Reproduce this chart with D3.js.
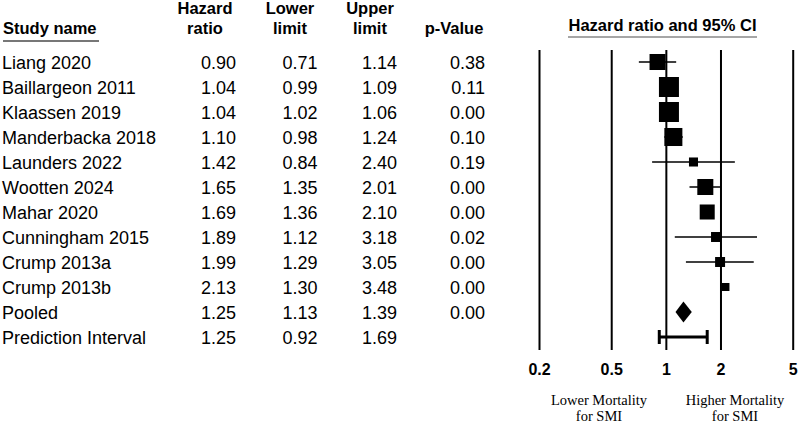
<!DOCTYPE html>
<html>
<head>
<meta charset="utf-8">
<script src="https://cdn.jsdelivr.net/npm/d3@7"></script>
<style>
  body { margin: 0; background: #fff; }
  svg { display: block; }
</style>
</head>
<body>
<svg id="svg"></svg>
<script>
// data
var studies = ["Liang 2020", "Baillargeon 2011", "Klaassen 2019", "Manderbacka 2018",
  "Launders 2022", "Wootten 2024", "Mahar 2020", "Cunningham 2015", "Crump 2013a",
  "Crump 2013b", "Pooled", "Prediction Interval"];
var hazard = [0.90, 1.04, 1.04, 1.10, 1.42, 1.65, 1.69, 1.89, 1.99, 2.13, 1.25, 1.25];
var lower = [0.71, 0.99, 1.02, 0.98, 0.84, 1.35, 1.36, 1.12, 1.29, 1.30, 1.13, 0.92];
var upper = [1.14, 1.09, 1.06, 1.24, 2.40, 2.01, 2.10, 3.18, 3.05, 3.48, 1.39, 1.69];
var pvalue = [0.38, 0.11, 0.00, 0.10, 0.19, 0.00, 0.00, 0.02, 0.00, 0.00, 0.00, null];
// relative weights (%) -> square size
var weights = [11.6, 18.1, 18.1, 14.7, 3.7, 11.6, 10.2, 4.5, 4.5, 2.9];
// rows whose whiskers are not drawn in the original
var noWhisker = ["Mahar 2020", "Crump 2013b"];
var tickVals = [0.2, 0.5, 1, 2, 5];

var W = 800, H = 423;
var sans = "'Liberation Sans', Arial, sans-serif";
var serif = "'Liberation Serif', 'Times New Roman', serif";
var f2 = d3.format(".2f");

var svg = d3.select("#svg")
    .attr("width", W)
    .attr("height", H)
    .style("font-family", sans);

svg.append("rect")
    .attr("width", W)
    .attr("height", H)
    .attr("fill", "#fff");

var y = d3.scalePoint().domain(studies).range([62, 337]);
var x = d3.scaleLog().domain([0.2, 5]).range([539, 792.7]);
var side = d3.scaleSqrt().domain([0, 18.1]).range([0, 20]);

// column headers
var head = svg.append("g").attr("font-weight", "bold").attr("font-size", "16.5px").attr("fill", "#000");
head.append("text").attr("x", 3).attr("y", 34).text("Study name");
head.append("line").attr("x1", 3).attr("x2", 99).attr("y1", 41).attr("y2", 41)
    .attr("stroke", "#777").attr("stroke-width", 2);

var cols = [
  {c: 205, l1: "Hazard", l2: "ratio"},
  {c: 290, l1: "Lower", l2: "limit"},
  {c: 370, l1: "Upper", l2: "limit"},
  {c: 454, l1: "", l2: "p-Value"}
];
cols.forEach(function(d) {
  head.append("text").attr("x", d.c).attr("y", 14).attr("text-anchor", "middle").text(d.l1);
  head.append("text").attr("x", d.c).attr("y", 34).attr("text-anchor", "middle").text(d.l2);
});

head.append("text").attr("x", 662.5).attr("y", 31).attr("text-anchor", "middle")
    .text("Hazard ratio and 95% CI");
head.append("line").attr("x1", 568).attr("x2", 757).attr("y1", 37).attr("y2", 37)
    .attr("stroke", "#888").attr("stroke-width", 1.5);

// table rows
var rows = svg.append("g").attr("font-size", "18px").attr("fill", "#000")
  .selectAll("g")
  .data(studies)
  .enter().append("g")
  .attr("transform", function(d) { return "translate(0," + (y(d) + 7) + ")"; });

rows.append("text").attr("x", 2).text(function(d) { return d; });
rows.append("text").attr("x", 236).attr("text-anchor", "end")
    .text(function(d, i) { return f2(hazard[i]); });
rows.append("text").attr("x", 317.5).attr("text-anchor", "end")
    .text(function(d, i) { return f2(lower[i]); });
rows.append("text").attr("x", 397).attr("text-anchor", "end")
    .text(function(d, i) { return f2(upper[i]); });
rows.append("text").attr("x", 485).attr("text-anchor", "end")
    .text(function(d, i) { return pvalue[i] == null ? "" : f2(pvalue[i]); });

// vertical reference lines + tick labels
var axis = d3.axisBottom(x)
    .tickValues(tickVals)
    .tickFormat(function(d) { return d3.format("~g")(d); })
    .tickSizeInner(-300)
    .tickSizeOuter(0)
    .tickPadding(13.5);

var gx = svg.append("g")
    .attr("transform", "translate(0,350)")
    .call(axis);
gx.select(".domain").remove();
gx.selectAll(".tick line").attr("stroke", "#000").attr("stroke-width", 2);
gx.selectAll(".tick text")
    .attr("fill", "#000")
    .attr("font-family", sans)
    .attr("font-size", "16px")
    .attr("font-weight", "bold");

var plot = svg.append("g");
var studyIdx = d3.range(weights.length);

// whiskers
plot.selectAll("line.ci")
  .data(studyIdx.filter(function(i) { return noWhisker.indexOf(studies[i]) < 0; }))
  .enter().append("line")
  .attr("class", "ci")
  .attr("x1", function(i) { return x(lower[i]); })
  .attr("x2", function(i) { return x(upper[i]); })
  .attr("y1", function(i) { return y(studies[i]); })
  .attr("y2", function(i) { return y(studies[i]); })
  .attr("stroke", "#000")
  .attr("stroke-width", 1.5);

// weighted squares
plot.selectAll("rect.box")
  .data(studyIdx)
  .enter().append("rect")
  .attr("class", "box")
  .attr("x", function(i) { return x(hazard[i]) - side(weights[i]) / 2; })
  .attr("y", function(i) { return y(studies[i]) - side(weights[i]) / 2; })
  .attr("width", function(i) { return side(weights[i]); })
  .attr("height", function(i) { return side(weights[i]); })
  .attr("fill", "#000");

// pooled diamond
var pi = studies.indexOf("Pooled");
var py = y("Pooled");
plot.append("path")
  .attr("d", "M" + x(lower[pi]) + "," + py +
    "L" + x(hazard[pi]) + "," + (py - 10.5) +
    "L" + x(upper[pi]) + "," + py +
    "L" + x(hazard[pi]) + "," + (py + 10.5) + "Z")
  .attr("fill", "#000");

// prediction interval
var qi = studies.indexOf("Prediction Interval");
var qy = y("Prediction Interval");
var pig = plot.append("g").attr("stroke", "#000").attr("stroke-width", 3);
pig.append("line").attr("x1", x(lower[qi])).attr("x2", x(upper[qi])).attr("y1", qy).attr("y2", qy);
[lower[qi], upper[qi]].forEach(function(v) {
  pig.append("line").attr("x1", x(v)).attr("x2", x(v)).attr("y1", qy - 7).attr("y2", qy + 7);
});

// direction labels
var lab = svg.append("g").attr("font-family", serif).attr("font-size", "14.5px")
    .attr("fill", "#000").attr("text-anchor", "middle");
lab.append("text").attr("x", 599).attr("y", 405).text("Lower Mortality");
lab.append("text").attr("x", 599).attr("y", 421).text("for SMI");
lab.append("text").attr("x", 735).attr("y", 405).text("Higher Mortality");
lab.append("text").attr("x", 735).attr("y", 421).text("for SMI");
</script>
</body>
</html>
